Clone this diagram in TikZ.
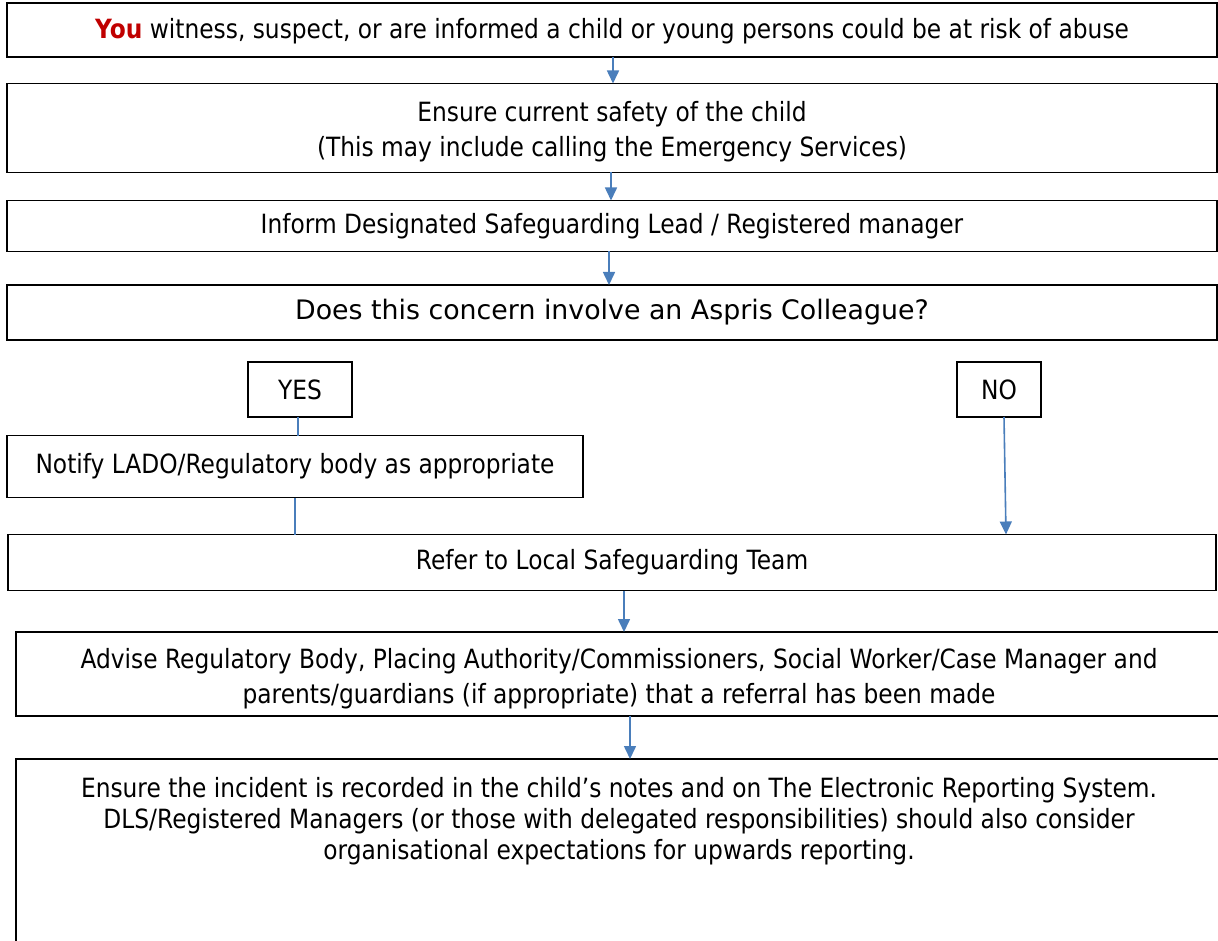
\documentclass[tikz,border=0pt]{standalone}
\usepackage{fontspec}
\setmainfont{DejaVu Sans}
\newfontfamily\tah{DejaVu Sans}[FakeStretch=0.88]
\newfontfamily\verd{DejaVu Sans}
\usetikzlibrary{arrows.meta}
\definecolor{arrblue}{HTML}{4A7EBB}
\definecolor{youred}{HTML}{C00000}
\begin{document}
\begin{tikzpicture}[x=1pt,y=-1pt,
  box/.style={draw=black, line width=1.8pt, rectangle, inner sep=0pt, outer sep=0pt, align=center,
              font=\tah\fontsize{26.5}{35}\selectfont},
  txt/.style={inner sep=0pt, outer sep=0pt, align=center, font=\tah\fontsize{26.5}{31}\selectfont},
  arr/.style={draw=arrblue, line width=1.6pt, -{Triangle[width=12pt,length=13pt]}},
  ln/.style={draw=arrblue, line width=1.4pt}]
\useasboundingbox (0,0) rectangle (1218,941);

% boxes
\node[box, minimum width=1210, minimum height=54] (b1) at (612,30)
  {\rule{0pt}{23pt}{\bfseries\color{youred}You} witness, suspect, or are informed a child or young persons could be at risk of abuse};
\node[box, minimum width=1210, minimum height=89] (b2) at (612,128)
  {\rule{0pt}{28pt}Ensure current safety of the child\\(This may include calling the Emergency Services)};
\node[box, minimum width=1210, minimum height=51] (b3) at (612,226)
  {Inform Designated Safeguarding Lead / Registered manager};
\node[box, minimum width=1210, minimum height=55, font=\verd\fontsize{26.8}{30}\selectfont] (b4) at (612,312.5)
  {Does this concern involve an Aspris Colleague?};
\node[box, minimum width=104, minimum height=55] (yes) at (300,389.5) {YES};
\node[box, minimum width=84, minimum height=55] (no) at (999,389.5) {NO};
\node[box, minimum width=576, minimum height=62] (lado) at (295,466.5)
  {Notify LADO/Regulatory body as appropriate};
\node[box, minimum width=1208, minimum height=56] (refer) at (612,562.5)
  {Refer to Local Safeguarding Team};
\node[box, minimum width=1206, minimum height=84] (adv) at (619,674)
  {\rule{0pt}{30pt}Advise Regulatory Body, Placing Authority/Commissioners, Social Worker/Case Manager and\\parents/guardians (if appropriate) that a referral has been made};
\node[box, minimum width=1206, minimum height=230] (rec) at (619,874) {};
\node[txt, anchor=north] (rectxt) at (619,777)
  {Ensure the incident is recorded in the child’s notes and on The Electronic Reporting System.\\
   DLS/Registered Managers (or those with delegated responsibilities) should also consider\\
   organisational expectations for upwards reporting.};

% x positions of connectors
\coordinate (xa) at (613,0);
\coordinate (xb) at (611,0);
\coordinate (xc) at (609,0);
\coordinate (xy) at (298,0);
\coordinate (xl) at (295,0);
\coordinate (xn) at (1004,0);
\coordinate (xn2) at (1006,0);
\coordinate (xr) at (624,0);
\coordinate (xv) at (630,0);

% connectors
\draw[arr] (b1.south -| xa) -- (b2.north -| xa);
\draw[arr] (b2.south -| xb) -- (b3.north -| xb);
\draw[arr] (b3.south -| xc) -- (b4.north -| xc);
\draw[ln] (yes.south -| xy) -- (lado.north -| xy);
\draw[ln] (lado.south -| xl) -- (refer.north -| xl);
\draw[arr] (no.south -| xn) -- (refer.north -| xn2);
\draw[arr] (refer.south -| xr) -- (adv.north -| xr);
\draw[arr] (adv.south -| xv) -- (rec.north -| xv);
\end{tikzpicture}
\end{document}
